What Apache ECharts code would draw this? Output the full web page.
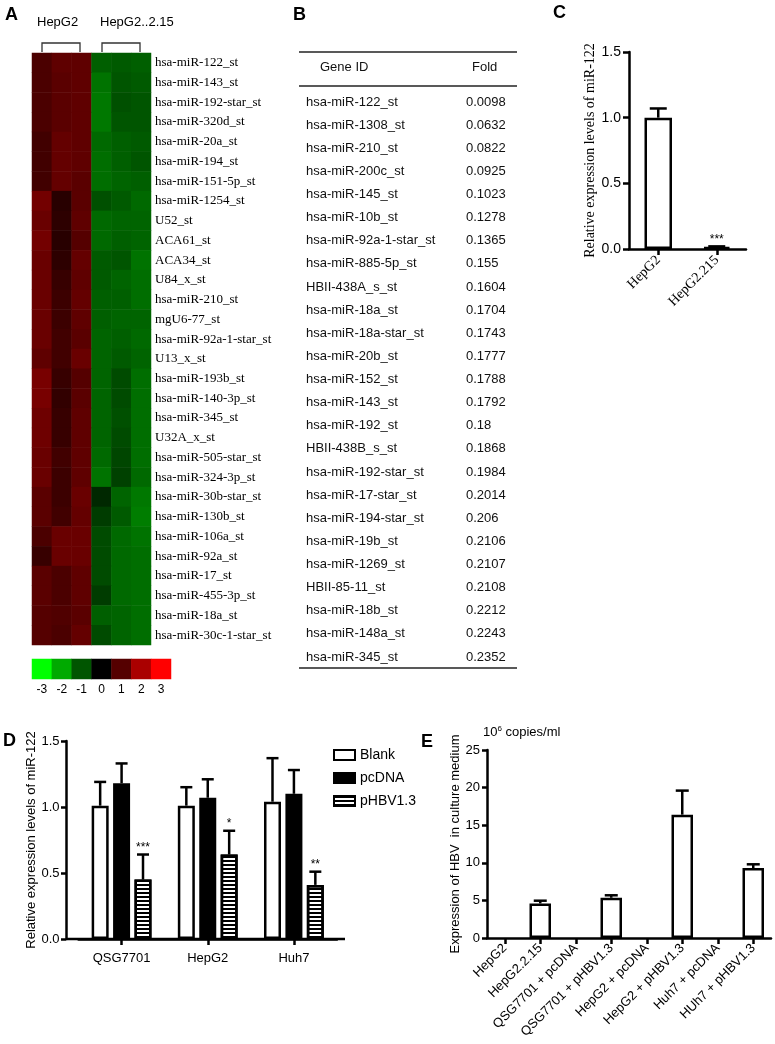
<!DOCTYPE html>
<html><head><meta charset="utf-8">
<script src="https://cdn.jsdelivr.net/npm/echarts@6/dist/echarts.min.js"></script>
<style>html,body{margin:0;padding:0;background:#fff}#c{width:775px;height:1044px}</style>
</head><body><div id="c"></div>
<script>
// ---------- Panel A: heatmap ----------
const heatRows = ['hsa-miR-122_st','hsa-miR-143_st','hsa-miR-192-star_st','hsa-miR-320d_st','hsa-miR-20a_st','hsa-miR-194_st','hsa-miR-151-5p_st','hsa-miR-1254_st','U52_st','ACA61_st','ACA34_st','U84_x_st','hsa-miR-210_st','mgU6-77_st','hsa-miR-92a-1-star_st','U13_x_st','hsa-miR-193b_st','hsa-miR-140-3p_st','hsa-miR-345_st','U32A_x_st','hsa-miR-505-star_st','hsa-miR-324-3p_st','hsa-miR-30b-star_st','hsa-miR-130b_st','hsa-miR-106a_st','hsa-miR-92a_st','hsa-miR-17_st','hsa-miR-455-3p_st','hsa-miR-18a_st','hsa-miR-30c-1-star_st'];
const heatCols = ['HepG2-1','HepG2-2','HepG2-3','HepG2.2.15-1','HepG2.2.15-2','HepG2.2.15-3'];
const hepg2Vals = [
 [0.88,1.12,1.12],[0.88,1.06,1.12],[0.88,1.06,1.12],[0.88,1.06,1.12],[0.76,1.18,1.12],
 [0.76,1.18,1.12],[0.76,1.18,1.06],[1.35,0.47,1.06],[1.24,0.53,1.12],[1.35,0.47,1.00],
 [1.24,0.53,1.18],[1.24,0.65,1.12],[1.24,0.71,1.18],[1.24,0.71,1.12],[1.24,0.76,1.06],
 [1.12,0.76,1.24],[1.41,0.65,1.00],[1.41,0.59,1.06],[1.29,0.65,1.12],[1.29,0.65,1.12],
 [1.24,0.76,1.12],[1.24,0.71,1.12],[1.06,0.71,1.24],[1.06,0.76,1.18],[0.88,1.24,1.24],
 [0.65,1.24,1.24],[1.06,0.88,1.12],[1.06,0.88,1.12],[1.00,0.94,1.06],[1.00,0.88,1.18]];
const hepg215Vals = [
 [-1.12,-1.06,-1.12],[-1.35,-1.00,-1.06],[-1.41,-0.94,-1.00],[-1.41,-1.00,-1.00],[-1.24,-1.12,-1.06],
 [-1.29,-1.12,-1.00],[-1.29,-1.18,-1.12],[-0.94,-1.06,-1.24],[-1.24,-1.18,-1.18],[-1.24,-1.12,-1.18],
 [-1.06,-1.00,-1.35],[-1.06,-1.18,-1.29],[-1.12,-1.12,-1.29],[-1.12,-1.18,-1.18],[-1.18,-1.12,-1.24],
 [-1.18,-1.06,-1.18],[-1.18,-0.88,-1.29],[-1.18,-0.88,-1.29],[-1.18,-0.94,-1.29],[-1.18,-0.88,-1.29],
 [-1.24,-0.82,-1.29],[-1.35,-0.76,-1.24],[-0.47,-1.18,-1.41],[-0.71,-1.06,-1.47],[-0.88,-1.24,-1.35],
 [-0.88,-1.24,-1.29],[-0.88,-1.24,-1.29],[-0.71,-1.24,-1.29],[-1.12,-1.18,-1.29],[-0.88,-1.18,-1.29]];
const scaleTicks = ['-3','-2','-1','0','1','2','3'];

// ---------- Panel B: table ----------
const tableGenes = ['hsa-miR-122_st','hsa-miR-1308_st','hsa-miR-210_st','hsa-miR-200c_st','hsa-miR-145_st','hsa-miR-10b_st','hsa-miR-92a-1-star_st','hsa-miR-885-5p_st','HBII-438A_s_st','hsa-miR-18a_st','hsa-miR-18a-star_st','hsa-miR-20b_st','hsa-miR-152_st','hsa-miR-143_st','hsa-miR-192_st','HBII-438B_s_st','hsa-miR-192-star_st','hsa-miR-17-star_st','hsa-miR-194-star_st','hsa-miR-19b_st','hsa-miR-1269_st','HBII-85-11_st','hsa-miR-18b_st','hsa-miR-148a_st','hsa-miR-345_st'];
const tableFolds = ['0.0098','0.0632','0.0822','0.0925','0.1023','0.1278','0.1365','0.155','0.1604','0.1704','0.1743','0.1777','0.1788','0.1792','0.18','0.1868','0.1984','0.2014','0.206','0.2106','0.2107','0.2108','0.2212','0.2243','0.2352'];

// ---------- Panel C ----------
const cCats = ['HepG2','HepG2.215'];
const cMeans = [1.00, 0.015];
const cErrs = [0.07, 0.005];
const cSig = ['', '***'];

// ---------- Panel D ----------
const dCats = ['QSG7701','HepG2','Huh7'];
const dSeriesNames = ['Blank','pcDNA','pHBV1.3'];
const dBlank = [1.01, 1.01, 1.04];
const dBlankErr = [0.18, 0.14, 0.33];
const dPcdna = [1.18, 1.07, 1.10];
const dPcdnaErr = [0.15, 0.14, 0.18];
const dPhbv = [0.45, 0.64, 0.41];
const dPhbvErr = [0.19, 0.18, 0.10];
const dSig = ['***', '*', '**'];

// ---------- Panel E ----------
const eCats = ['HepG2','HepG2.2.15','QSG7701 + pcDNA','QSG7701 + pHBV1.3','HepG2 + pcDNA','HepG2 + pHBV1.3','Huh7 + pcDNA','HUh7 + pHBV1.3'];
const eMeans = [0, 4.6, 0, 5.35, 0, 16.4, 0, 9.3];
const eErrs = [0, 0.36, 0, 0.33, 0, 3.2, 0, 0.5];

// ---------- styles ----------
const SANS = '"Liberation Sans", Arial, sans-serif';
const SERIF = '"Liberation Serif", "Times New Roman", serif';
const AXW = 2.5;
const D_BAR_W = 17, D_BAR_GAP = 0.26;
const D_STEP = D_BAR_W * (1 + D_BAR_GAP);

const heatData = [];
heatRows.forEach((r, i) => {
  hepg2Vals[i].forEach((v, j) => heatData.push([j, i, v]));
  hepg215Vals[i].forEach((v, j) => heatData.push([j + 3, i, v]));
});
const scaleData = scaleTicks.map((t, i) => [i, 0, Number(t)]);

function valueAxisBase(gridIndex, min, max, interval, fontSize, fmt, margin, tickLen) {
  return {
    type: 'value', gridIndex, min, max, interval,
    axisLine: {show: true, lineStyle: {color: '#000', width: AXW}},
    axisTick: {show: true, length: tickLen, lineStyle: {color: '#000', width: AXW}},
    splitLine: {show: false},
    axisLabel: {color: '#000', fontSize, fontFamily: SANS, margin: margin, formatter: fmt}
  };
}
function catAxisBase(gridIndex, data, labelOpts) {
  return {
    type: 'category', gridIndex, data,
    axisLine: {show: true, lineStyle: {color: '#000', width: AXW}},
    axisTick: {show: true, alignWithLabel: true, length: 6, lineStyle: {color: '#000', width: AXW}},
    axisLabel: Object.assign({color: '#000', interval: 0}, labelOpts)
  };
}

function makeErrRender(capHalf, stepPx, sigLookup) {
  return function (params, api) {
    const ci = api.value(0), m = api.value(1), e = api.value(2), k = api.value(3);
    if (!e) return null;
    const base = api.coord([ci, m]);
    const top = api.coord([ci, m + e]);
    const x = base[0] + (k - 1) * stepPx;
    const sig = sigLookup(ci, k);
    const children = [
      {type: 'line', shape: {x1: x, y1: base[1], x2: x, y2: top[1]}, style: {stroke: '#000', lineWidth: AXW}},
      {type: 'line', shape: {x1: x - capHalf, y1: top[1], x2: x + capHalf, y2: top[1]}, style: {stroke: '#000', lineWidth: AXW}}
    ];
    if (sig) children.push({type: 'text', style: {text: sig, x: x, y: top[1] - 1, textAlign: 'center', textVerticalAlign: 'bottom', align: 'center', verticalAlign: 'bottom', font: '12px ' + SANS, fill: '#000'}});
    return {type: 'group', children};
  };
}

const dMeans = [dBlank, dPcdna, dPhbv];
const dErrs = [dBlankErr, dPcdnaErr, dPhbvErr];
const dErrData = [];
for (let k = 0; k < 3; k++) for (let i = 0; i < 3; i++) dErrData.push([i, dMeans[k][i], dErrs[k][i], k]);

const stripeDecal = {symbol: 'rect', symbolSize: 1, dashArrayX: [1, 0], dashArrayY: [2, 2], rotation: 0, color: '#000'};

function panelLetter(t, x, y) {
  return {type: 'text', left: x, top: y, style: {text: t, font: 'bold 18px ' + SANS, fill: '#000'}};
}
function hline(x1, x2, y, w) {
  return {type: 'line', shape: {x1, y1: y, x2, y2: y}, style: {stroke: '#222', lineWidth: w || 1.5}};
}

const option = {
  animation: false,
  backgroundColor: '#fff',
  grid: [
    {left: 32, top: 53, width: 119, height: 592},
    {left: 32, top: 659, width: 139, height: 20},
    {left: 306, top: 90.5, width: 211, height: 578},
    {left: 629, top: 52, width: 117, height: 197},
    {left: 78.5, top: 741, width: 258.5, height: 198},
    {left: 487, top: 750, width: 284, height: 188}
  ],
  xAxis: [
    {type: 'category', gridIndex: 0, data: heatCols, show: false},
    {type: 'category', gridIndex: 1, data: scaleTicks, axisLine: {show: false}, axisTick: {show: false},
     axisLabel: {color: '#000', fontSize: 12, fontFamily: SANS, margin: 5, interval: 0}},
    {type: 'value', gridIndex: 2, show: false, min: 0, max: 1},
    catAxisBase(3, cCats, {fontSize: 14, fontFamily: SERIF, rotate: 45, margin: 9}),
    catAxisBase(4, dCats, {fontSize: 13, fontFamily: SANS, margin: 13}),
    catAxisBase(5, eCats, {fontSize: 13, fontFamily: SANS, rotate: 45, margin: 8})
  ],
  yAxis: [
    {type: 'category', gridIndex: 0, data: heatRows, inverse: true, position: 'right',
     axisLine: {show: false}, axisTick: {show: false},
     axisLabel: {color: '#000', fontSize: 13, fontFamily: SERIF, margin: 4, interval: 0}},
    {type: 'category', gridIndex: 1, data: [''], show: false},
    {type: 'category', gridIndex: 2, data: tableGenes, inverse: true, position: 'left',
     axisLine: {show: false}, axisTick: {show: false},
     axisLabel: {inside: true, align: 'left', margin: 0, color: '#111', fontSize: 13, fontFamily: SANS, interval: 0}},
    {type: 'category', gridIndex: 2, data: tableFolds, inverse: true, position: 'left', offset: -160,
     axisLine: {show: false}, axisTick: {show: false},
     axisLabel: {inside: true, align: 'left', margin: 0, color: '#111', fontSize: 13, fontFamily: SANS, interval: 0}},
    Object.assign(valueAxisBase(3, 0, 1.5, 0.5, 14, v => v.toFixed(1), 8, 6),
      {name: 'Relative expression levels of miR-122', nameLocation: 'middle', nameGap: 32,
       nameTextStyle: {fontSize: 14, fontFamily: SERIF, color: '#000'}}),
    Object.assign(valueAxisBase(4, 0, 1.5, 0.5, 13, v => v.toFixed(1), 6.5, 5),
      {offset: 12.5, name: 'Relative expression levels of miR-122', nameLocation: 'middle', nameGap: 22.5,
       nameTextStyle: {fontSize: 13, fontFamily: SANS, color: '#000'}}),
    Object.assign(valueAxisBase(5, 0, 25, 5, 13, v => String(v), 7, 5),
      {name: 'Expression of HBV  in culture medium', nameLocation: 'middle', nameGap: 25,
       nameTextStyle: {fontSize: 13, fontFamily: SANS, color: '#000'}})
  ],
  visualMap: {
    type: 'continuous', show: false, min: -3, max: 3, seriesIndex: [0, 1],
    inRange: {color: ['#00ff00', '#000000', '#ff0000']}
  },
  legend: {
    orient: 'vertical', left: 328, top: 743, itemWidth: 21, itemHeight: 10, itemGap: 9,
    icon: 'rect', data: dSeriesNames,
    textStyle: {fontSize: 14, fontFamily: SANS, color: '#000'}
  },
  series: [
    {type: 'heatmap', xAxisIndex: 0, yAxisIndex: 0, data: heatData, itemStyle: {borderWidth: 0}},
    {type: 'heatmap', xAxisIndex: 1, yAxisIndex: 1, data: scaleData, itemStyle: {borderWidth: 0}},
    {type: 'scatter', xAxisIndex: 2, yAxisIndex: 2, symbolSize: 0, silent: true,
     data: tableGenes.map((g, i) => [0, i])},
    {type: 'bar', name: 'C', xAxisIndex: 3, yAxisIndex: 4, barWidth: 27.5, data: cMeans,
     itemStyle: {color: '#fff', borderColor: '#000', borderWidth: AXW}},
    {type: 'custom', xAxisIndex: 3, yAxisIndex: 4, z: 5, encode: {x: 0, y: 1},
     data: cMeans.map((m, i) => [i, m, cErrs[i], 1]),
     renderItem: makeErrRender(8.5, 0, (ci) => cSig[ci])},
    {type: 'bar', name: 'Blank', xAxisIndex: 4, yAxisIndex: 5, barWidth: D_BAR_W, barGap: (D_BAR_GAP * 100) + '%', data: dBlank,
     itemStyle: {color: '#fff', borderColor: '#000', borderWidth: AXW}},
    {type: 'bar', name: 'pcDNA', xAxisIndex: 4, yAxisIndex: 5, barWidth: D_BAR_W, barGap: (D_BAR_GAP * 100) + '%', data: dPcdna,
     itemStyle: {color: '#000', borderColor: '#000', borderWidth: AXW}},
    {type: 'bar', name: 'pHBV1.3', xAxisIndex: 4, yAxisIndex: 5, barWidth: D_BAR_W, barGap: (D_BAR_GAP * 100) + '%', data: dPhbv,
     itemStyle: {color: '#fff', borderColor: '#000', borderWidth: AXW, decal: stripeDecal}},
    {type: 'custom', xAxisIndex: 4, yAxisIndex: 5, z: 5, encode: {x: 0, y: 1}, data: dErrData,
     renderItem: makeErrRender(6, D_STEP, (ci, k) => (k === 2 ? dSig[ci] : ''))},
    {type: 'bar', name: 'E', xAxisIndex: 5, yAxisIndex: 6, barWidth: 21.5,
     data: eMeans.map(v => (v === 0 ? {value: v, itemStyle: {borderWidth: 0}} : v)),
     itemStyle: {color: '#fff', borderColor: '#000', borderWidth: AXW}},
    {type: 'custom', xAxisIndex: 5, yAxisIndex: 6, z: 5, encode: {x: 0, y: 1},
     data: eMeans.map((m, i) => [i, m, eErrs[i], 1]),
     renderItem: makeErrRender(6.5, 0, () => '')}
  ],
  graphic: [
    panelLetter('A', 5, 6),
    panelLetter('B', 293, 6),
    panelLetter('C', 553, 4),
    panelLetter('D', 3, 732),
    panelLetter('E', 421, 733),
    {type: 'text', left: 37, top: 16, style: {text: 'HepG2', font: '13px ' + SANS, fill: '#000'}},
    {type: 'text', left: 100, top: 16, style: {text: 'HepG2..2.15', font: '13px ' + SANS, fill: '#000'}},
    {type: 'polyline', shape: {points: [[42, 52], [42, 43], [80, 43], [80, 52]]}, style: {stroke: '#333', lineWidth: 1.3, fill: null}},
    {type: 'polyline', shape: {points: [[102, 52], [102, 43], [140, 43], [140, 52]]}, style: {stroke: '#333', lineWidth: 1.3, fill: null}},
    hline(299, 517, 52), hline(299, 517, 86), hline(299, 517, 668),
    {type: 'text', left: 320, top: 61, style: {text: 'Gene ID', font: '13px ' + SANS, fill: '#111'}},
    {type: 'text', left: 472, top: 61, style: {text: 'Fold', font: '13px ' + SANS, fill: '#111'}},
    {type: 'line', shape: {x1: 66, y1: 939, x2: 345, y2: 939}, style: {stroke: '#000', lineWidth: AXW}},
    {type: 'text', left: 483, top: 725, style: {
      text: '{a|10}{s|6}{a| copies/ml}',
      rich: {a: {font: '13px ' + SANS, fill: '#000'}, s: {font: '8px ' + SANS, fill: '#000', verticalAlign: 'top', padding: [0, 0, 6, 0]}}}}
  ]
};

const chart = echarts.init(document.getElementById('c'), null, {renderer: 'canvas'});
chart.setOption(option);
</script>
</body></html>
